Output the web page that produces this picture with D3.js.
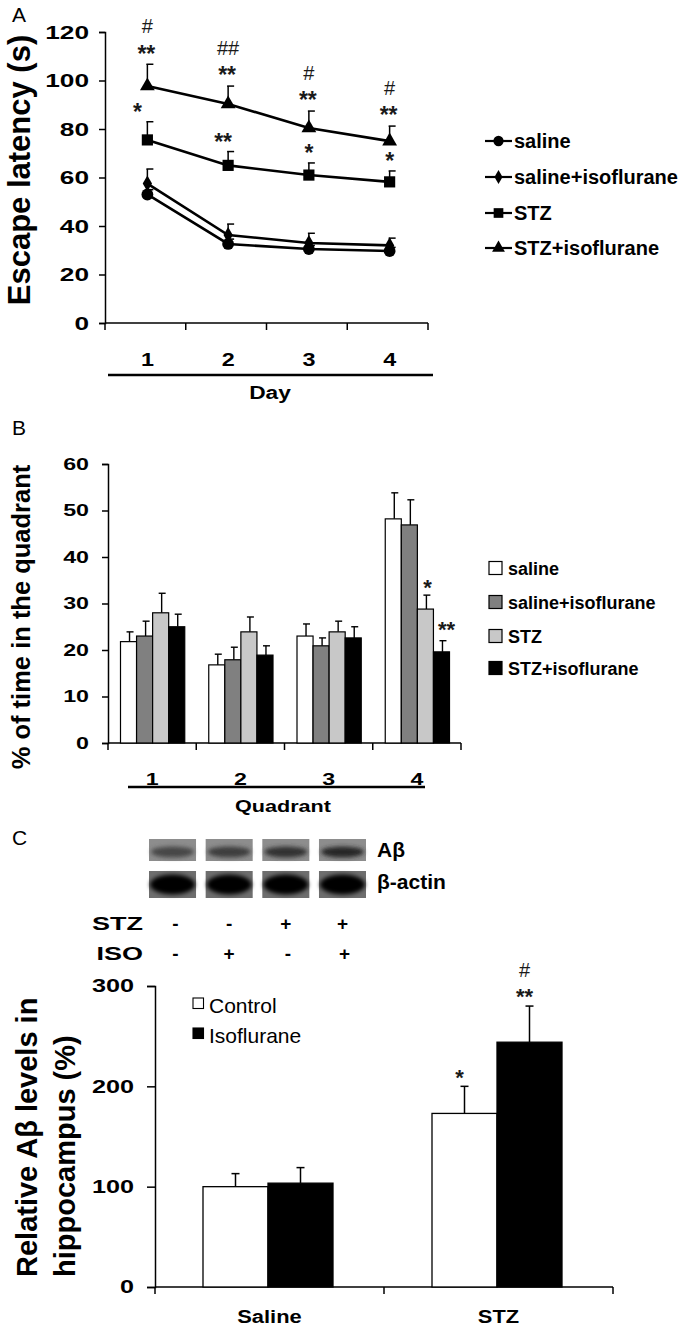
<!DOCTYPE html>
<html><head><meta charset="utf-8">
<script src="https://cdn.jsdelivr.net/npm/d3@7/dist/d3.min.js"></script>
<style>
html,body{margin:0;padding:0;background:#fff;}
svg{display:block;font-family:"Liberation Sans",Arial,sans-serif;}
</style></head>
<body>
<svg id="fig" width="688" height="1333"></svg>
<script>
// ---------- DATA ----------
const days = ["1","2","3","4"];
const groupNames = ["saline","saline+isoflurane","STZ","STZ+isoflurane"];
const latencyTicks = [0,20,40,60,80,100,120];
const latSaline    = [53, 32.6, 30.5, 29.7];
const latSalineErr = [2, 2, 1.5, 1.5];
const latSalIso    = [57.5, 36.3, 33, 32];
const latSalIsoErr = [6, 4.5, 4, 3];
const latStz       = [75.5, 65, 61, 58.2];
const latStzErr    = [7.5, 5.7, 5, 4.5];
const latStzIso    = [97.7, 90.3, 80.4, 75];
const latStzIsoErr = [9, 7.4, 7, 6.2];
const sigStz       = ["*", "**", "*", "*"];
const sigStzIsoA   = ["**", "**", "**", "**"];
const sigStzIsoB   = ["#", "##", "#", "#"];

const quadrants = ["1","2","3","4"];
const timeTicks = [0,10,20,30,40,50,60];
const timeSaline    = [21.8, 16.8, 23, 48.2];
const timeSalineErr = [2.1, 2.3, 2.6, 5.6];
const timeSalIso    = [23, 17.9, 20.9, 46.9];
const timeSalIsoErr = [3.2, 2.7, 1.7, 5.4];
const timeStz       = [28, 23.9, 23.9, 28.8];
const timeStzErr    = [4.2, 3.2, 2.3, 3];
const timeStzIso    = [25, 18.9, 22.6, 19.6];
const timeStzIsoErr = [2.7, 2, 2.4, 2.4];
const sigTimeStz    = ["", "", "", "*"];
const sigTimeStzIso = ["", "", "", "**"];

const lanes = ["1","2","3","4"];
const laneStz = ["-","-","+","+"];
const laneIso = ["-","+","-","+"];
const abetaBand = [0.45, 0.55, 0.68, 0.8];
const actinBand = [1, 1, 1, 1];

const conditions = ["Saline","STZ"];
const treatments = ["Control","Isoflurane"];
const abTicks = [0,100,200,300];
const abControl    = [100, 173];
const abControlErr = [13, 27];
const abIso        = [103.5, 244];
const abIsoErr     = [15.5, 36];
const sigAbControl = ["", "*"];
const sigAbIsoA    = ["", "**"];
const sigAbIsoB    = ["", "#"];

// ---------- HELPERS ----------
const svg = d3.select("#fig");
svg.append("rect").attr("width",688).attr("height",1333).attr("fill","#fff");
function stretch(sel, sx){
  sel.each(function(){
    const l = this.getComputedTextLength();
    this.setAttribute("textLength", (l*sx).toFixed(1));
    this.setAttribute("lengthAdjust","spacingAndGlyphs");
  });
}
function txt(g, x, y, s, fs, opt={}){
  const t = g.append("text").attr("x",x).attr("y",y).text(s)
    .attr("font-size",fs).attr("font-weight",opt.w||"bold")
    .attr("text-anchor",opt.a||"start").attr("fill",opt.fill||"#000");
  if(opt.rot) t.attr("transform",`rotate(-90,${x},${y})`);
  if(opt.sx) stretch(t,opt.sx);
  return t;
}
function star(g, x, yTop, s, fs){ // asterisks/hash positioned by their visual center
  const isHash = s.indexOf("#")>=0;
  const off = isHash ? 0.36*fs : 0.62*fs;
  return g.append("text").attr("x",x).attr("y",yTop+off).text(s)
    .attr("font-size",fs).attr("text-anchor","middle").attr("fill","#1a1a1a")
    .attr("font-weight", isHash ? "normal":"bold");
}
function styleTicks(sel, fs, sx){
  sel.attr("font-size",fs).attr("font-weight","bold").attr("font-family","Liberation Sans, Arial").attr("fill","#000");
  stretch(sel, sx);
}

// ---------- PANEL A ----------
const gA = svg.append("g");
txt(gA, 12, 22, "A", 21, {w:"normal"});
const xA = d3.scaleBand().domain(days).range([105,428]);
const yA = d3.scaleLinear().domain([0,120]).range([323,32]);
const cxA = d => xA(d) + xA.bandwidth()/2 + 2;

const axYA = gA.append("g").attr("transform","translate(105,0)")
  .call(d3.axisLeft(yA).tickValues(latencyTicks).tickSize(6).tickPadding(10));
axYA.select(".domain").attr("stroke-width",1.5);
axYA.selectAll(".tick line").attr("stroke-width",1.5);
styleTicks(axYA.selectAll("text"), 19, 1.38);

const axXA = gA.append("g").attr("transform","translate(0,323)")
  .call(d3.axisBottom(xA).tickSize(0).tickPadding(30));
axXA.select(".domain").attr("stroke-width",1.5).attr("d","M105,0H428");
axXA.selectAll("text").attr("dx",2);
styleTicks(axXA.selectAll("text"), 18, 1.3);
gA.selectAll(".bndA").data(days.concat(["end"])).join("line")
  .attr("x1",d=>d==="end"?xA.range()[1]:xA(d)).attr("x2",d=>d==="end"?xA.range()[1]:xA(d))
  .attr("y1",323).attr("y2",330).attr("stroke","#000").attr("stroke-width",1.5);
gA.append("line").attr("x1",108).attr("x2",433).attr("y1",375).attr("y2",375).attr("stroke","#000").attr("stroke-width",2.5);
txt(gA, 270, 399, "Day", 17.5, {a:"middle", sx:1.3});
txt(gA, 30, 170, "Escape latency (s)", 31, {a:"middle", rot:true});

const seriesA = [
  {name:groupNames[0], v:latSaline, e:latSalineErr, sym:d3.symbolCircle, size:110},
  {name:groupNames[1], v:latSalIso, e:latSalIsoErr, sym:d3.symbolDiamond, size:75},
  {name:groupNames[2], v:latStz,    e:latStzErr,    sym:d3.symbolSquare,  size:125},
  {name:groupNames[3], v:latStzIso, e:latStzIsoErr, sym:d3.symbolTriangle, size:95}
];
const lineA = d3.line().x((v,i)=>cxA(days[i])).y(v=>yA(v));
seriesA.forEach(s=>{
  const g = gA.append("g");
  s.v.forEach((v,i)=>{
    const x = cxA(days[i]), y0 = yA(v), y1 = yA(v+s.e[i]);
    g.append("line").attr("x1",x).attr("x2",x).attr("y1",y0).attr("y2",y1).attr("stroke","#000").attr("stroke-width",1.5);
    g.append("line").attr("x1",x-1).attr("x2",x+6).attr("y1",y1).attr("y2",y1).attr("stroke","#000").attr("stroke-width",1.5);
  });
});
seriesA.forEach(s=>{
  gA.append("path").attr("d",lineA(s.v)).attr("fill","none").attr("stroke","#000").attr("stroke-width",2.6);
});
seriesA.forEach(s=>{
  gA.selectAll(null).data(s.v).join("path")
    .attr("d",d3.symbol().type(s.sym).size(s.size))
    .attr("transform",(v,i)=>`translate(${cxA(days[i])},${yA(v)})`).attr("fill","#000");
});
// significance A
latStz.forEach((v,i)=>{
  const x = cxA(days[i]) - (i===0?10:(i===1?5:0));
  star(gA, x, yA(v+latStzErr[i]) - 16, sigStz[i], 23);
});
latStzIso.forEach((v,i)=>{
  const x = cxA(days[i]);
  const yt = yA(v+latStzIsoErr[i]);
  star(gA, x-1, yt-17, sigStzIsoA[i], 23);
  star(gA, x, yt-38, sigStzIsoB[i], 20);
});
// legend A
const legRowsA = [141,177,213,248];
seriesA.forEach((s,i)=>{
  const y = legRowsA[i];
  gA.append("line").attr("x1",485).attr("x2",512).attr("y1",y).attr("y2",y).attr("stroke","#000").attr("stroke-width",2.2);
  gA.append("path").attr("d",d3.symbol().type(s.sym).size(s.size*0.75)).attr("transform",`translate(498.5,${y})`).attr("fill","#000");
  txt(gA, 514, y+7, s.name, 20);
});

// ---------- PANEL B ----------
const gB = svg.append("g");
txt(gB, 12, 435, "B", 21, {w:"normal"});
const xB = d3.scaleBand().domain(quadrants).range([108,461]);
const xBi = d3.scaleBand().domain(groupNames).range([12.5, xB.bandwidth()-11.5]);
const yB = d3.scaleLinear().domain([0,60]).range([743,464]);
const axYB = gB.append("g").attr("transform","translate(108,0)")
  .call(d3.axisLeft(yB).tickValues(timeTicks).tickSize(6).tickPadding(13));
axYB.select(".domain").attr("stroke-width",1.5);
axYB.selectAll(".tick line").attr("stroke-width",1.5);
styleTicks(axYB.selectAll("text"), 16, 1.45);
const axXB = gB.append("g").attr("transform","translate(0,743)")
  .call(d3.axisBottom(xB).tickSize(0).tickPadding(30));
axXB.select(".domain").attr("stroke-width",1.5).attr("d","M108,0H461");
styleTicks(axXB.selectAll("text"), 16.5, 1.4);
gB.selectAll(".bndB").data(quadrants.concat(["end"])).join("line")
  .attr("x1",d=>d==="end"?xB.range()[1]:xB(d)).attr("x2",d=>d==="end"?xB.range()[1]:xB(d))
  .attr("y1",743).attr("y2",750).attr("stroke","#000").attr("stroke-width",1.5);
gB.append("line").attr("x1",128).attr("x2",425).attr("y1",787).attr("y2",787).attr("stroke","#000").attr("stroke-width",2.5);
txt(gB, 283, 812, "Quadrant", 16, {a:"middle", sx:1.35});
txt(gB, 30, 617, "% of time in the quadrant", 25.5, {a:"middle", rot:true});

const fillsB = ["#ffffff","#808080","#c8c8c8","#000000"];
const seriesB = [
  {v:timeSaline, e:timeSalineErr},
  {v:timeSalIso, e:timeSalIsoErr},
  {v:timeStz,    e:timeStzErr},
  {v:timeStzIso, e:timeStzIsoErr}
];
seriesB.forEach((s,k)=>{
  s.v.forEach((v,i)=>{
    const x = xB(quadrants[i]) + xBi(groupNames[k]);
    const w = xBi.bandwidth();
    const cx = x + w/2 + 1, yt = yB(v+s.e[i]);
    gB.append("line").attr("x1",cx).attr("x2",cx).attr("y1",yB(v)).attr("y2",yt).attr("stroke","#000").attr("stroke-width",1.4);
    gB.append("line").attr("x1",cx-3).attr("x2",cx+4).attr("y1",yt).attr("y2",yt).attr("stroke","#000").attr("stroke-width",1.4);
    gB.append("rect").attr("x",x).attr("y",yB(v)).attr("width",w).attr("height",yB(0)-yB(v))
      .attr("fill",fillsB[k]).attr("stroke","#000").attr("stroke-width",1.2);
  });
});
timeStz.forEach((v,i)=>{
  if(!sigTimeStz[i]) return;
  const cx = xB(quadrants[i]) + xBi(groupNames[2]) + xBi.bandwidth()/2 + 2;
  star(gB, cx, yB(v+timeStzErr[i]) - 14, sigTimeStz[i], 22);
});
timeStzIso.forEach((v,i)=>{
  if(!sigTimeStzIso[i]) return;
  const cx = xB(quadrants[i]) + xBi(groupNames[3]) + xBi.bandwidth()/2 + 5;
  star(gB, cx, yB(v+timeStzIsoErr[i]) - 17, sigTimeStzIso[i], 22);
});
const legRowsB = [568,602,636,668];
groupNames.forEach((n,i)=>{
  const y = legRowsB[i];
  gB.append("rect").attr("x",489).attr("y",y-6.5).attr("width",13).attr("height",13)
    .attr("fill",fillsB[i]).attr("stroke","#000").attr("stroke-width",1.2);
  txt(gB, 508, y+6.5, n, 18);
});

// ---------- PANEL C ----------
const gC = svg.append("g");
txt(gC, 12, 845, "C", 21, {w:"normal"});
const defs = svg.append("defs");
defs.append("filter").attr("id","blur").attr("x","-30%").attr("y","-60%").attr("width","160%").attr("height","220%")
  .append("feGaussianBlur").attr("stdDeviation",2.2);
const xL = d3.scaleBand().domain(lanes).range([149,366]).paddingInner(0.17);
const bandColor = d3.interpolateRgb("#6e6e6e","#151515");
lanes.forEach((l,i)=>{
  const x = xL(l), w = xL.bandwidth();
  gC.append("rect").attr("x",x).attr("y",839).attr("width",w).attr("height",22).attr("fill","#8d8d8d");
  gC.append("ellipse").attr("cx",x+w/2).attr("cy",852).attr("rx",w/2-2).attr("ry",5.5)
    .attr("fill",bandColor(abetaBand[i])).attr("filter","url(#blur)");
  gC.append("rect").attr("x",x).attr("y",871).attr("width",w).attr("height",27).attr("fill","#6e6e6e");
  gC.append("ellipse").attr("cx",x+w/2).attr("cy",884.5).attr("rx",w/2-1).attr("ry",10)
    .attr("fill",d3.interpolateRgb("#444","#000")(actinBand[i])).attr("filter","url(#blur)");
  txt(gC, x+w/2+(i===0?3:0), 930, laneStz[i], 19, {a:"middle"});
  txt(gC, x+w/2+(i===0?3:(i>=2?2:0)), 960, laneIso[i], 19, {a:"middle"});
});
txt(gC, 377, 857, "Aβ", 21);
txt(gC, 377, 889, "β-actin", 21);
txt(gC, 143, 930, "STZ", 18, {a:"end", sx:1.5});
txt(gC, 143, 960, "ISO", 18, {a:"end", sx:1.5});

const xC = d3.scaleBand().domain(conditions).range([155,613]);
const xCi = d3.scaleBand().domain(treatments).range([48, 178]);
const yC = d3.scaleLinear().domain([0,300]).range([1287,986]);
const axYC = gC.append("g").attr("transform","translate(155,0)")
  .call(d3.axisLeft(yC).tickValues(abTicks).tickSize(8).tickPadding(13));
axYC.select(".domain").attr("stroke-width",1.5);
axYC.selectAll(".tick line").attr("stroke-width",1.5);
styleTicks(axYC.selectAll("text"), 18, 1.4);
const axXC = gC.append("g").attr("transform","translate(0,1287)")
  .call(d3.axisBottom(xC).tickSize(0).tickPadding(24));
axXC.select(".domain").attr("stroke-width",1.5).attr("d","M155,0H613");
styleTicks(axXC.selectAll("text"), 17.5, 1.25);
gC.selectAll(".bndC").data(conditions.concat(["end"])).join("line")
  .attr("x1",d=>d==="end"?xC.range()[1]:xC(d)).attr("x2",d=>d==="end"?xC.range()[1]:xC(d))
  .attr("y1",1287).attr("y2",1294).attr("stroke","#000").attr("stroke-width",1.5);
txt(gC, 37, 1277, "Relative Aβ levels in", 29, {rot:true});
txt(gC, 75, 1277, "hippocampus (%)", 29, {rot:true});

const seriesC = [
  {v:abControl, e:abControlErr, fill:"#fff"},
  {v:abIso,     e:abIsoErr,     fill:"#000"}
];
seriesC.forEach((s,k)=>{
  s.v.forEach((v,i)=>{
    const x = xC(conditions[i]) + xCi(treatments[k]);
    const w = xCi.bandwidth();
    const cx = x + w/2, yt = yC(v+s.e[i]);
    gC.append("line").attr("x1",cx).attr("x2",cx).attr("y1",yC(v)).attr("y2",yt).attr("stroke","#000").attr("stroke-width",1.5);
    gC.append("line").attr("x1",cx-4).attr("x2",cx+4).attr("y1",yt).attr("y2",yt).attr("stroke","#000").attr("stroke-width",1.5);
    gC.append("rect").attr("x",x).attr("y",yC(v)).attr("width",w).attr("height",yC(0)-yC(v))
      .attr("fill",s.fill).attr("stroke","#000").attr("stroke-width",1.3);
  });
});
abControl.forEach((v,i)=>{
  if(!sigAbControl[i]) return;
  const cx = xC(conditions[i]) + xCi(treatments[0]) + xCi.bandwidth()/2 - 5;
  star(gC, cx, yC(v+abControlErr[i]) - 15, sigAbControl[i], 22);
});
abIso.forEach((v,i)=>{
  if(!sigAbIsoA[i]) return;
  const cx = xC(conditions[i]) + xCi(treatments[1]) + xCi.bandwidth()/2 - 5;
  const yt = yC(v+abIsoErr[i]);
  star(gC, cx, yt-16, sigAbIsoA[i], 22);
  star(gC, cx, yt-36, sigAbIsoB[i], 20);
});
const legRowsC = [1013,1043];
treatments.forEach((t,i)=>{
  const y = legRowsC[i];
  gC.append("rect").attr("x",193).attr("y",y-15).attr("width",10.5).attr("height",10.5)
    .attr("fill",seriesC[i].fill).attr("stroke","#000").attr("stroke-width",1.1);
  txt(gC, 209, y, t, 21, {w:"normal"});
});
</script>
</body></html>
